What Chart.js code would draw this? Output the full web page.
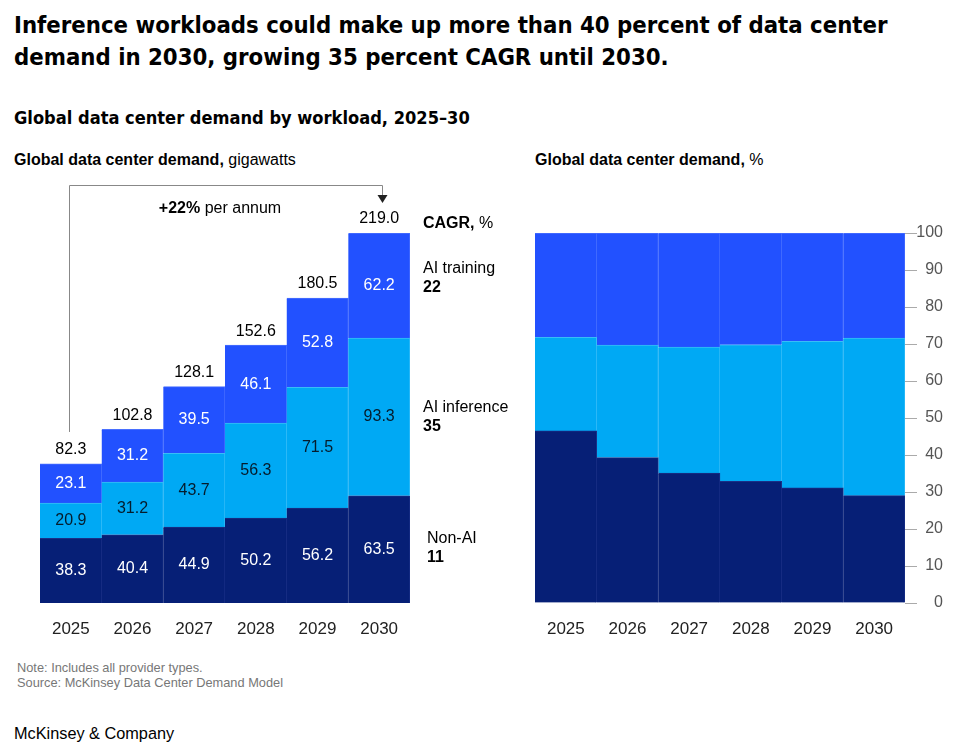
<!DOCTYPE html>
<html>
<head>
<meta charset="utf-8">
<script src="https://cdn.jsdelivr.net/npm/chart.js@4.4.1/dist/chart.umd.min.js"></script>
<style>
  body { margin: 0; width: 980px; height: 752px; background: #fff; position: relative; overflow: hidden;
         font-family: "Liberation Sans", Arial, sans-serif; color: #000; }
  .abs { position: absolute; white-space: nowrap; }
  #title { left: 14px; top: 9px; font-family: "DejaVu Sans Condensed", "DejaVu Sans", sans-serif; font-weight: bold;
           font-size: 23.7px; line-height: 32px; }
  #subtitle { left: 14px; top: 106px; font-family: "DejaVu Sans Condensed", "DejaVu Sans", sans-serif; font-weight: bold;
              font-size: 18.1px; line-height: 24px; }
  .panel-title { top: 151px; font-size: 16px; line-height: 18px; }
  .panel-title b { font-weight: bold; }
  #note { left: 17px; top: 660px; font-size: 12.8px; line-height: 15px; color: #777; }
  #brand { left: 14px; top: 723px; font-size: 16.3px; line-height: 20px; }
  #leftWrap { position: absolute; left: 0; top: 140px; width: 520px; height: 510px; }
  #rightWrap { position: absolute; left: 520px; top: 140px; width: 460px; height: 510px; }
</style>
</head>
<body>
<div id="title" class="abs">Inference workloads could make up more than 40 percent of data center<br>demand in 2030, growing 35 percent CAGR until 2030.</div>
<div id="subtitle" class="abs">Global data center demand by workload, 2025–30</div>
<div class="abs panel-title" style="left:14px"><b>Global data center demand,</b> gigawatts</div>
<div class="abs panel-title" style="left:535px"><b>Global data center demand,</b> %</div>
<div id="leftWrap"><canvas id="leftChart"></canvas></div>
<div id="rightWrap"><canvas id="rightChart"></canvas></div>
<div id="note" class="abs">Note: Includes all provider types.<br>Source: McKinsey Data Center Demand Model</div>
<div id="brand" class="abs">McKinsey &amp; Company</div>

<script>
// --- データ ---
const years = ['2025', '2026', '2027', '2028', '2029', '2030'];
const nonAiGw = [38.3, 40.4, 44.9, 50.2, 56.2, 63.5];
const inferenceGw = [20.9, 31.2, 43.7, 56.3, 71.5, 93.3];
const trainingGw = [23.1, 31.2, 39.5, 46.1, 52.8, 62.2];
const totalsGw = [82.3, 102.8, 128.1, 152.6, 180.5, 219.0];

// 右のチャート（%）は図から読み取った値
const nonAiPct = [46.5, 39.3, 35.1, 32.9, 31.1, 29.0];
const inferencePct = [25.3, 30.4, 34.1, 36.9, 39.6, 42.6];
const trainingPct = [28.2, 30.3, 30.8, 30.2, 29.3, 28.4];

const seriesNames = ['Non-AI', 'AI inference', 'AI training'];
const cagrValues = ['11', '35', '22'];
const growthLabel = ['+22%', ' per annum'];
const pctTicks = [0, 10, 20, 30, 40, 50, 60, 70, 80, 90, 100];

// --- 色 ---
const NAVY = '#061f76', CYAN = '#00a9f4', BLUE = '#2251ff';
const NAVY_EDGE = '#1a2f86', CYAN_EDGE = '#38bdf7', BLUE_EDGE = '#4a70ff';
const FONT = '"Liberation Sans", Arial, sans-serif';

function barDataset(label, data, bg, edge) {
    return {
        label, data, backgroundColor: bg, borderColor: edge,
        borderWidth: { top: 1, right: 1, left: 0, bottom: 0 }, borderSkipped: false,
        barPercentage: 1, categoryPercentage: 1
    };
}

const xScale = {
    stacked: true,
    grid: { display: false, drawTicks: false },
    border: { display: false },
    ticks: { color: '#222', font: { family: FONT, size: 17 }, padding: 16 }
};

// --- 左チャートのラベル描画 ---
const leftLabels = {
    id: 'leftLabels',
    afterDatasetsDraw(chart) {
        const { ctx, scales: { x, y } } = chart;
        ctx.save();
        ctx.font = `16px ${FONT}`;
        ctx.textAlign = 'center';
        ctx.textBaseline = 'middle';

        // セグメントの値
        chart.data.datasets.forEach((ds, di) => {
            chart.getDatasetMeta(di).data.forEach((bar, i) => {
                ctx.fillStyle = di === 1 ? '#051c2c' : '#fff';
                ctx.fillText(ds.data[i].toFixed(1), bar.x, (bar.y + bar.base) / 2);
            });
        });

        // 合計
        ctx.fillStyle = '#000';
        totalsGw.forEach((t, i) => ctx.fillText(t.toFixed(1), x.getPixelForValue(i), y.getPixelForValue(t) - 14));

        // ブラケットと矢印
        const x0 = Math.round(x.getPixelForValue(0)) - 1.5;
        const x1 = Math.round(x.getPixelForValue(5)) + 3.5;
        const topY = y.getPixelForValue(totalsGw[5]) - 47.5;
        const yStart = y.getPixelForValue(totalsGw[0]) - 32;
        const tipY = y.getPixelForValue(totalsGw[5]) - 30;
        ctx.strokeStyle = '#888';
        ctx.lineWidth = 1;
        ctx.beginPath();
        ctx.moveTo(x0, yStart);
        ctx.lineTo(x0, topY);
        ctx.lineTo(x1, topY);
        ctx.lineTo(x1, tipY - 6);
        ctx.stroke();
        ctx.fillStyle = '#222';
        ctx.beginPath();
        ctx.moveTo(x1 - 5, tipY - 8);
        ctx.lineTo(x1 + 5, tipY - 8);
        ctx.lineTo(x1, tipY);
        ctx.closePath();
        ctx.fill();

        // +22% per annum
        ctx.textAlign = 'left';
        ctx.font = `bold 16px ${FONT}`;
        const w1 = ctx.measureText(growthLabel[0]).width;
        ctx.font = `16px ${FONT}`;
        const w2 = ctx.measureText(growthLabel[1]).width;
        const gx = (x0 + x1) / 2 - (w1 + w2) / 2 - 6;
        const gy = topY + 23;
        ctx.fillStyle = '#000';
        ctx.font = `bold 16px ${FONT}`;
        ctx.fillText(growthLabel[0], gx, gy);
        ctx.font = `16px ${FONT}`;
        ctx.fillText(growthLabel[1], gx + w1, gy);

        // CAGR ラベル
        const lx = chart.chartArea.right + 13;
        const cy = y.getPixelForValue(totalsGw[5]) - 9;
        ctx.font = `bold 16px ${FONT}`;
        ctx.fillText('CAGR,', lx, cy);
        const cw = ctx.measureText('CAGR, ').width;
        ctx.font = `16px ${FONT}`;
        ctx.fillText('%', lx + cw, cy);

        const last = years.length - 1;
        const shifts = [[4, -2], [0, 0], [0, -8]];
        chart.data.datasets.forEach((ds, di) => {
            const bar = chart.getDatasetMeta(di).data[last];
            const mid = (bar.y + bar.base) / 2 + shifts[di][1];
            const sx = lx + shifts[di][0];
            ctx.font = `16px ${FONT}`;
            ctx.fillText(seriesNames[di], sx, mid - 9);
            ctx.font = `bold 16px ${FONT}`;
            ctx.fillText(cagrValues[di], sx, mid + 10);
        });
        ctx.restore();
    }
};

new Chart(document.getElementById('leftChart'), {
    type: 'bar',
    data: {
        labels: years,
        datasets: [
            barDataset(seriesNames[0], nonAiGw, NAVY, NAVY_EDGE),
            barDataset(seriesNames[1], inferenceGw, CYAN, CYAN_EDGE),
            barDataset(seriesNames[2], trainingGw, BLUE, BLUE_EDGE)
        ]
    },
    options: {
        responsive: true,
        maintainAspectRatio: false,
        animation: false,
        layout: { padding: { left: 40, right: 110, top: 93, bottom: 0 } },
        scales: {
            x: { ...xScale, afterFit: s => { s.height = 47; } },
            y: { stacked: true, display: false, min: 0, max: 219 }
        },
        plugins: { legend: { display: false }, tooltip: { enabled: false } }
    },
    plugins: [leftLabels]
});

new Chart(document.getElementById('rightChart'), {
    type: 'bar',
    data: {
        labels: years,
        datasets: [
            barDataset(seriesNames[0], nonAiPct, NAVY, NAVY_EDGE),
            barDataset(seriesNames[1], inferencePct, CYAN, CYAN_EDGE),
            barDataset(seriesNames[2], trainingPct, BLUE, BLUE_EDGE)
        ]
    },
    options: {
        responsive: true,
        maintainAspectRatio: false,
        animation: false,
        layout: { padding: { left: 15, right: 37, top: 93, bottom: 0 } },
        scales: {
            x: { ...xScale, afterFit: s => { s.height = 47; } },
            y: {
                stacked: true,
                position: 'right',
                min: 0, max: 100,
                afterBuildTicks: s => { s.ticks = pctTicks.map(v => ({ value: v })); },
                afterFit: s => { s.width = 38; },
                grid: { drawOnChartArea: false, tickLength: 12, color: '#aaa' },
                border: { display: false },
                ticks: { color: '#555', font: { family: FONT, size: 16 }, padding: 2, crossAlign: 'far' }
            }
        },
        plugins: { legend: { display: false }, tooltip: { enabled: false } }
    }
});
</script>
</body>
</html>
